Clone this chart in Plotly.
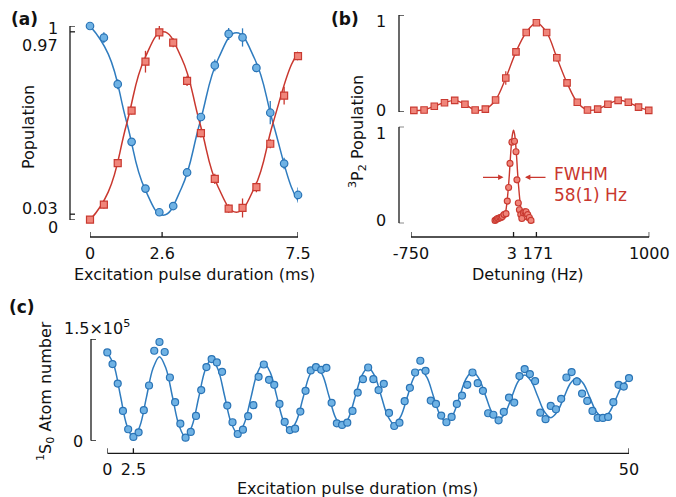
import plotly.graph_objects as go

W, H = 676, 497


def px(x):
    return x / W


def py(y):
    return 1 - y / H


FONT = "DejaVu Sans"
AX = "#1a1a1a"
BLUE_LINE = "#2f7cbf"
BLUE_FILL = "#6fb2e4"
BLUE_EDGE = "#2a74b6"
RED_LINE = "#c9372e"
RED_FILL = "#f0857a"
RED_EDGE = "#c93a31"

# ---------------- (a) Rabi oscillation ----------------
a_t = [0.0, 0.5, 1.0, 1.5, 2.0, 2.5, 3.0, 3.5, 4.0, 4.5, 5.0, 5.5, 6.0, 6.5, 7.0, 7.5]
a_blue = [1.0, 0.94, 0.70, 0.403, 0.162, 0.04, 0.072, 0.245, 0.531, 0.797, 0.959, 0.941,
          0.784, 0.553, 0.291, 0.129]
a_blue_err = [0.008, 0.028, 0.026, 0.015, 0.015, 0.017, 0.017, 0.02, 0.017, 0.03, 0.031,
              0.047, 0.022, 0.06, 0.03, 0.039]
a_red = [0.002, 0.079, 0.293, 0.564, 0.816, 0.967, 0.914, 0.717, 0.448, 0.212, 0.059,
         0.062, 0.169, 0.393, 0.641, 0.845]
a_red_err = [0.008, 0.02, 0.015, 0.02, 0.056, 0.037, 0.023, 0.026, 0.023, 0.026, 0.022,
             0.049, 0.026, 0.023, 0.046, 0.023]
a_fit_t = [0.0, 0.66, 1.32, 1.98, 2.64, 3.3, 3.96, 4.62, 5.28, 5.94, 6.6, 7.26, 7.5]
a_fit_blue = [1.0, 0.855, 0.505, 0.16, 0.025, 0.165, 0.5, 0.83, 0.965, 0.83, 0.5, 0.17, 0.10]
a_fit_red = [0.0, 0.145, 0.495, 0.835, 0.97, 0.835, 0.5, 0.17, 0.04, 0.17, 0.5, 0.80, 0.86]
a_range_x = [0, 7.5]
a_range_y = [0, 1]
a_xticks = [0, 2.6, 7.5]
a_xticktext = ["0", "2.6", "7.5"]
a_yticks = [0, 0.03, 0.97, 1]

# ---------------- (b) spectroscopy ----------------
b_top_hz = [-729, -654, -579, -504, -429, -354, -279, -204, -129, -54, 21, 96, 171, 246,
            321, 396, 471, 546, 621, 696, 771, 846, 921, 996]
b_top_pop = [0.017, 0.02, 0.06, 0.096, 0.12, 0.08, 0.02, 0.03, 0.124, 0.35, 0.62, 0.82,
             0.92, 0.82, 0.56, 0.30, 0.10, 0.02, 0.03, 0.08, 0.12, 0.10, 0.05, 0.017]
b_top_err = [0.01, 0.01, 0.01, 0.01, 0.01, 0.01, 0.01, 0.01, 0.02, 0.07, 0.04, 0.02, 0.03,
             0.035, 0.04, 0.03, 0.01, 0.01, 0.01, 0.01, 0.01, 0.01, 0.01, 0.01]
b_bot_hz = [-133, -124, -115, -106, -97, -88, -79, -67, -52, -43, -33, -23, -9, 10, 21, 28,
            38, 46, 56, 64, 75, 86, 95, 107, 119, 131]
b_bot_pop = [0.03, 0.04, 0.05, 0.05, 0.06, 0.06, 0.07, 0.09, 0.10, 0.23, 0.37, 0.62, 0.84,
             0.85, 0.74, 0.45, 0.21, 0.14, 0.09, 0.05, 0.11, 0.12, 0.12, 0.09, 0.06, 0.03]
b_fit_hz = [-150, -100, -70, -55, -45, -35, -28, -15, -5, 3, 11, 21, 34, 41, 51, 61, 76, 106, 156]
b_fit_pop = [0.01, 0.03, 0.06, 0.12, 0.22, 0.37, 0.50, 0.78, 0.92, 0.965, 0.92, 0.78, 0.50,
             0.37, 0.22, 0.12, 0.06, 0.03, 0.01]
b_range_x = [-750, 1000]
b_range_y = [0, 1]
b_xticks = [-750, 3, 171, 1000]
b_xticktext = ["-750", "3\u2009", "\u2009171", "1000"]
b_yticks = [0, 1]

# ---------------- (c) long Rabi flopping ----------------
c_t = [i * 0.5 for i in range(101)]
c_atoms_1e5 = [1.302, 1.130, 0.843, 0.439, 0.169, 0.055, 0.124, 0.450, 0.814, 1.327,
               1.456, 1.308, 0.932, 0.568, 0.251, 0.044, 0.129, 0.365, 0.746, 1.086,
               1.204, 1.154, 1.016, 0.518, 0.272, 0.099, 0.163, 0.361, 0.524, 0.942,
               1.124, 0.898, 0.824, 0.543, 0.277, 0.156, 0.178, 0.429, 0.735, 1.036,
               1.086, 1.046, 1.075, 0.558, 0.257, 0.232, 0.266, 0.439, 0.710, 0.908,
               1.080, 0.908, 0.746, 0.839, 0.410, 0.217, 0.266, 0.583, 0.780, 1.006,
               1.179, 1.031, 0.592, 0.543, 0.370, 0.272, 0.351, 0.543, 0.666, 0.824,
               1.006, 0.849, 0.735, 0.405, 0.383, 0.300, 0.425, 0.636, 0.562, 0.953,
               1.056, 0.982, 0.879, 0.414, 0.317, 0.513, 0.464, 0.617, 0.932, 1.012,
               0.873, 0.695, 0.587, 0.439, 0.336, 0.336, 0.351, 0.568, 0.824, 0.799,
               0.923]
c_fit_t = [i * 0.625 for i in range(81)]
c_fit_atoms_1e5 = [
    1.300, 1.115, 0.670, 0.225, 0.040, 0.216, 0.640, 1.064,
    1.240, 1.066, 0.645, 0.224, 0.050, 0.220, 0.630, 1.040,
    1.210, 1.047, 0.655, 0.263, 0.100, 0.254, 0.625, 0.996,
    1.150, 1.004, 0.650, 0.296, 0.150, 0.289, 0.625, 0.961,
    1.100, 0.970, 0.655, 0.340, 0.210, 0.337, 0.645, 0.953,
    1.080, 0.957, 0.660, 0.363, 0.240, 0.359, 0.645, 0.931,
    1.050, 0.936, 0.660, 0.384, 0.270, 0.380, 0.645, 0.910,
    1.020, 0.916, 0.665, 0.414, 0.310, 0.407, 0.640, 0.873,
    0.970, 0.878, 0.655, 0.432, 0.340, 0.426, 0.635, 0.844,
    0.930, 0.844, 0.635, 0.426, 0.340, 0.422, 0.620, 0.818,
    0.900]
c_range_x = [0, 50]
c_range_y = [0, 1.5]
c_xticks = [0, 2.5, 50]
c_xticktext = ["0", "2.5", "50"]
c_yticks = [0, 1.5]

fig = go.Figure()

spl = dict(shape="spline", smoothing=1.0)

# (a)
fig.add_trace(go.Scatter(x=a_fit_t, y=a_fit_blue, mode="lines", xaxis="x", yaxis="y",
                         line=dict(color=BLUE_LINE, width=1.5, shape="spline", smoothing=1.3),
                         hoverinfo="skip"))
fig.add_trace(go.Scatter(x=a_fit_t, y=a_fit_red, mode="lines", xaxis="x", yaxis="y",
                         line=dict(color=RED_LINE, width=1.5, shape="spline", smoothing=1.3),
                         hoverinfo="skip"))
fig.add_trace(go.Scatter(x=a_t, y=a_blue, mode="markers", xaxis="x", yaxis="y", cliponaxis=False,
                         error_y=dict(type="data", array=a_blue_err, color=BLUE_LINE,
                                      thickness=1.3, width=0),
                         marker=dict(symbol="circle", size=7.5, color=BLUE_FILL,
                                     line=dict(color=BLUE_EDGE, width=1.2))))
fig.add_trace(go.Scatter(x=a_t, y=a_red, mode="markers", xaxis="x", yaxis="y", cliponaxis=False,
                         error_y=dict(type="data", array=a_red_err, color=RED_LINE,
                                      thickness=1.3, width=0),
                         marker=dict(symbol="square", size=7, color=RED_FILL,
                                     line=dict(color=RED_EDGE, width=1.2))))

# (b) top
fig.add_trace(go.Scatter(x=b_top_hz, y=b_top_pop, mode="lines+markers", xaxis="x2", yaxis="y2",
                         cliponaxis=False,
                         line=dict(color=RED_LINE, width=1.4, **spl),
                         error_y=dict(type="data", array=b_top_err, color=RED_LINE,
                                      thickness=1.2, width=0),
                         marker=dict(symbol="square", size=6.5, color=RED_FILL,
                                     line=dict(color=RED_EDGE, width=1.1))))
# (b) bottom
fig.add_trace(go.Scatter(x=b_fit_hz, y=b_fit_pop, mode="lines", xaxis="x2", yaxis="y3",
                         line=dict(color=RED_LINE, width=1.4, **spl), hoverinfo="skip"))
fig.add_trace(go.Scatter(x=b_bot_hz, y=b_bot_pop, mode="markers", xaxis="x2", yaxis="y3",
                         cliponaxis=False,
                         marker=dict(symbol="circle", size=6, color=RED_FILL,
                                     line=dict(color=RED_EDGE, width=1.1))))

# (c)
fig.add_trace(go.Scatter(x=c_fit_t, y=c_fit_atoms_1e5, mode="lines", xaxis="x3", yaxis="y4",
                         line=dict(color=BLUE_LINE, width=1.5, **spl), hoverinfo="skip"))
fig.add_trace(go.Scatter(x=c_t, y=c_atoms_1e5, mode="markers", xaxis="x3", yaxis="y4",
                         cliponaxis=False,
                         marker=dict(symbol="circle", size=7, color=BLUE_FILL,
                                     line=dict(color=BLUE_EDGE, width=1.2))))


def xax(domain, rng, pos, tickvals, ticktext):
    return dict(domain=domain, range=rng, anchor="free", position=pos, showline=False,
                ticks="", tickvals=tickvals, ticktext=ticktext, tickangle=0,
                tickfont=dict(family=FONT, size=16, color="#111"), ticklabelstandoff=5,
                showgrid=False, zeroline=False, fixedrange=True, automargin=False)


def yax(domain, rng, pos):
    return dict(domain=domain, range=rng, anchor="free", position=pos, showline=False,
                ticks="", showticklabels=False,
                showgrid=False, zeroline=False, fixedrange=True, automargin=False)


# axis lines (bracket style, detached from the data) drawn on the axes' own scales
shapes = []
LN = dict(color=AX, width=1.3)


def x_axis_shapes(xref, rng, ypix, ticks):
    shapes.append(dict(type="line", xref=xref, yref="paper", x0=rng[0], x1=rng[1],
                       y0=py(ypix), y1=py(ypix), line=LN))
    for v in ticks:
        shapes.append(dict(type="line", xref=xref, yref="paper", x0=v, x1=v,
                           y0=py(ypix), y1=py(ypix - 5), line=LN))


def y_axis_shapes(yref, rng, xpix, ticks):
    shapes.append(dict(type="line", xref="paper", yref=yref, x0=px(xpix), x1=px(xpix),
                       y0=rng[0], y1=rng[1], line=LN))
    for v in ticks:
        shapes.append(dict(type="line", xref="paper", yref=yref, x0=px(xpix), x1=px(xpix + 5),
                           y0=v, y1=v, line=LN))


x_axis_shapes("x", a_range_x, 237, a_xticks)
y_axis_shapes("y", a_range_y, 70, a_yticks)
x_axis_shapes("x2", b_range_x, 237, b_xticks)
y_axis_shapes("y2", b_range_y, 399, b_yticks)
y_axis_shapes("y3", b_range_y, 399, b_yticks)
x_axis_shapes("x3", c_range_x, 453.3, c_xticks)
y_axis_shapes("y4", c_range_y, 91, c_yticks)

ann = []


def label(text, x, y, xanchor="right", size=16, color="#111", angle=0, bold=False):
    ann.append(dict(text=f"<b>{text}</b>" if bold else text, x=px(x), y=py(y), xref="paper",
                    yref="paper", xanchor=xanchor, yanchor="middle", showarrow=False,
                    textangle=angle, font=dict(family=FONT, size=size, color=color)))


# y tick labels
label("1", 60, 28)
label("0.97", 60, 46)
label("0.03", 60, 208)
label("0", 60, 227)
label("1", 388, 21.5)
label("0", 388, 110)
label("1", 388, 133.5)
label("0", 388, 220.5)
label("1.5×10<sup>5</sup>", 62, 327, xanchor="left")
label("0", 85, 441)

# axis titles
label("Population", 28, 127, xanchor="center", angle=-90)
label("<sup>3</sup>P<sub>2</sub> Population", 358, 132, xanchor="center", angle=-90)
label("<sup>1</sup>S<sub>0</sub> Atom number", 45, 391, xanchor="center", angle=-90)
label("Excitation pulse duration (ms)", 194, 274, xanchor="center")
label("Detuning (Hz)", 527, 274, xanchor="center")
label("Excitation pulse duration (ms)", 357, 488, xanchor="center")

# panel labels
label("(a)", 9, 19, xanchor="left", size=17, bold=True)
label("(b)", 329, 19, xanchor="left", size=17, bold=True)
label("(c)", 7, 307, xanchor="left", size=17, bold=True)

# FWHM
label("FWHM", 552, 173.5, xanchor="left", size=17, color=RED_LINE)
label("58(1) Hz", 552, 195, xanchor="left", size=17, color=RED_LINE)
for hx, axs in [(503.5, -22), (525, 22)]:
    ann.append(dict(x=px(hx), y=py(177.3), xref="paper", yref="paper", text="", showarrow=True,
                    ax=axs, ay=0, arrowhead=2, arrowsize=0.9, arrowwidth=1.2,
                    arrowcolor=RED_LINE, standoff=0, startstandoff=0))

fig.update_layout(
    width=W, height=H, margin=dict(l=0, r=0, t=0, b=0, pad=0, autoexpand=False),
    paper_bgcolor="white", plot_bgcolor="white", showlegend=False,
    font=dict(family=FONT, size=16, color="#111"),
    xaxis=xax([px(90), px(298)], a_range_x, py(237), a_xticks, a_xticktext),
    yaxis=yax([py(220), py(26)], a_range_y, px(70)),
    xaxis2=xax([px(411), px(649.3)], b_range_x, py(237), b_xticks, b_xticktext),
    yaxis2=yax([py(112), py(15)], b_range_y, px(399)),
    yaxis3=yax([py(223.3), py(126.7)], b_range_y, px(399)),
    xaxis3=xax([px(107.3), px(629)], c_range_x, py(453.3), c_xticks, c_xticktext),
    yaxis4=yax([py(440.7), py(339)], c_range_y, px(91)),
    annotations=ann,
    shapes=shapes,
)

fig.write_html("out.html", config={"displayModeBar": False},
               post_script="document.body.style.margin='0px';")
